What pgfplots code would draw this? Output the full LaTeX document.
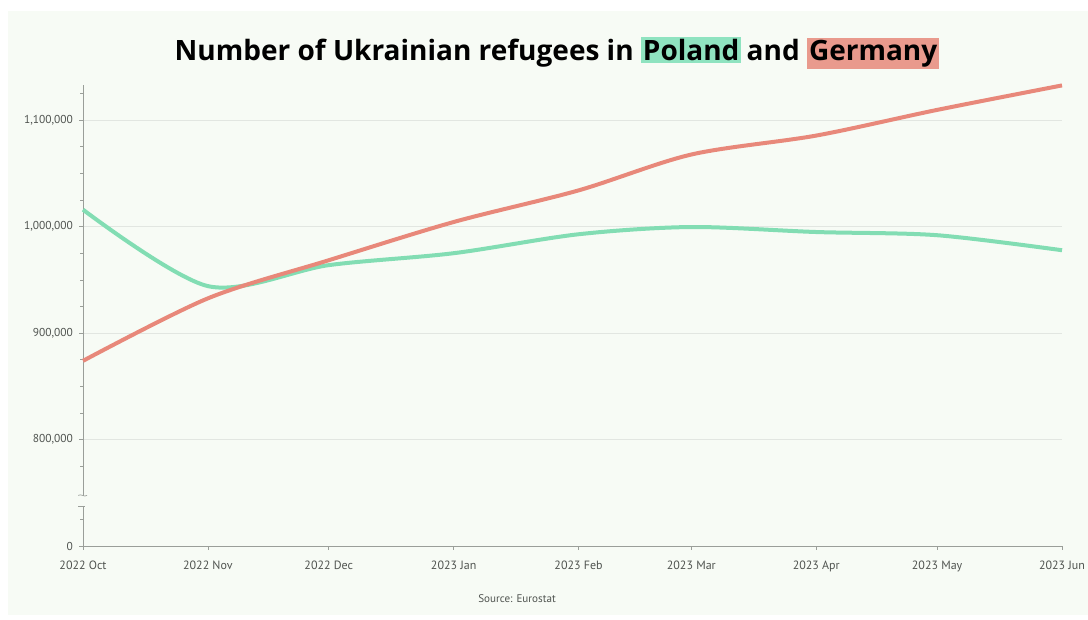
\documentclass[border=0pt]{standalone}
\usepackage{pgfplots}
\pgfplotsset{compat=1.18}
\usepackage{fontspec}
\setmainfont{Open Sans}
\newfontfamily\tickfont{PT Sans}
\definecolor{bg}{HTML}{F7FBF5}
\definecolor{pl}{HTML}{82DDB3}
\definecolor{de}{HTML}{E8887A}
\definecolor{plhl}{HTML}{8FE3C0}
\definecolor{dehl}{HTML}{E99A8D}
\definecolor{gridc}{HTML}{E2E6E1}
\definecolor{axc}{HTML}{9A9E99}
\definecolor{txt}{HTML}{505450}
\pgfplotstableread{
x y
0   1015900
31  944100
61  963800
92  975000
123 992800
151 999600
182 994900
212 991900
243 977800
}\poland
\pgfplotstableread{
x y
0   873900
31  932600
61  968400
92  1004300
123 1034000
151 1067700
182 1085500
212 1109600
243 1132600
}\germany
\begin{document}
\begin{tikzpicture}[x=0.75pt,y=0.75pt]
\path[use as bounding box] (0,0) rectangle (1088,620);
\fill[bg] (8,5) rectangle (1088,609);
\node[font=\fontsize{21}{23}\selectfont\bfseries, anchor=center, inner sep=0pt] at (557,567)
  {Number of Ukrainian refugees in \setlength{\fboxsep}{1.5pt}\colorbox{plhl}{Poland}\hspace{-1.5pt} and \colorbox{dehl}{Germany}};
\node[font=\tickfont\fontsize{8.3}{10}\selectfont, text=txt] at (517,21) {Source: Eurostat};
\begin{axis}[
  at={(62.25pt,55.5pt)}, anchor=south west,
  scale only axis, width=734.25pt, height=345.75pt,
  xmin=0, xmax=243, ymin=700000, ymax=1133000,
  axis lines*=left,
  axis line style={axc, line width=0.5pt},
  x axis line style={-}, y axis line style={-},
  xtick={0,31,61,92,123,151,182,212,243},
  xticklabels={2022 Oct,2022 Nov,2022 Dec,2023 Jan,2023 Feb,2023 Mar,2023 Apr,2023 May,2023 Jun},
  ytick={700000,800000,900000,1000000,1100000},
  yticklabels={0,{800,000},{900,000},{1,000,000},{1,100,000}},
  minor ytick={725000,775000,825000,850000,875000,925000,950000,975000,1025000,1050000,1075000,1125000},
  ymajorgrids, grid style={gridc, line width=0.5pt},
  minor grid style={draw=none},
  tick style={axc, line width=0.4pt},
  xtick align=outside, ytick align=outside,
  major tick length=3pt, minor tick length=2pt,
  yticklabel style={font=\tickfont\fontsize{8.6}{10}\selectfont, text=txt, xshift=-1pt},
  xticklabel style={font=\tickfont\fontsize{9}{10}\selectfont, text=txt, yshift=-5pt},
  scaled y ticks=false,
  clip=false,
]
\addplot[pl, line width=3pt, smooth, tension=0.5] table {\poland};
\addplot[de, line width=3pt, smooth, tension=0.5] table {\germany};
\fill[bg] (axis cs:-1.2,737500) rectangle (axis cs:1.2,746500);
\draw[axc, line width=0.5pt] (axis cs:-1.2,747500) .. controls (axis cs:-0.5,749500) and (axis cs:0.3,745500) .. (axis cs:1.0,747500);
\draw[axc, line width=0.5pt] (axis cs:-1.2,737000) -- (axis cs:0.6,737000);
\end{axis}
\end{tikzpicture}
\end{document}
